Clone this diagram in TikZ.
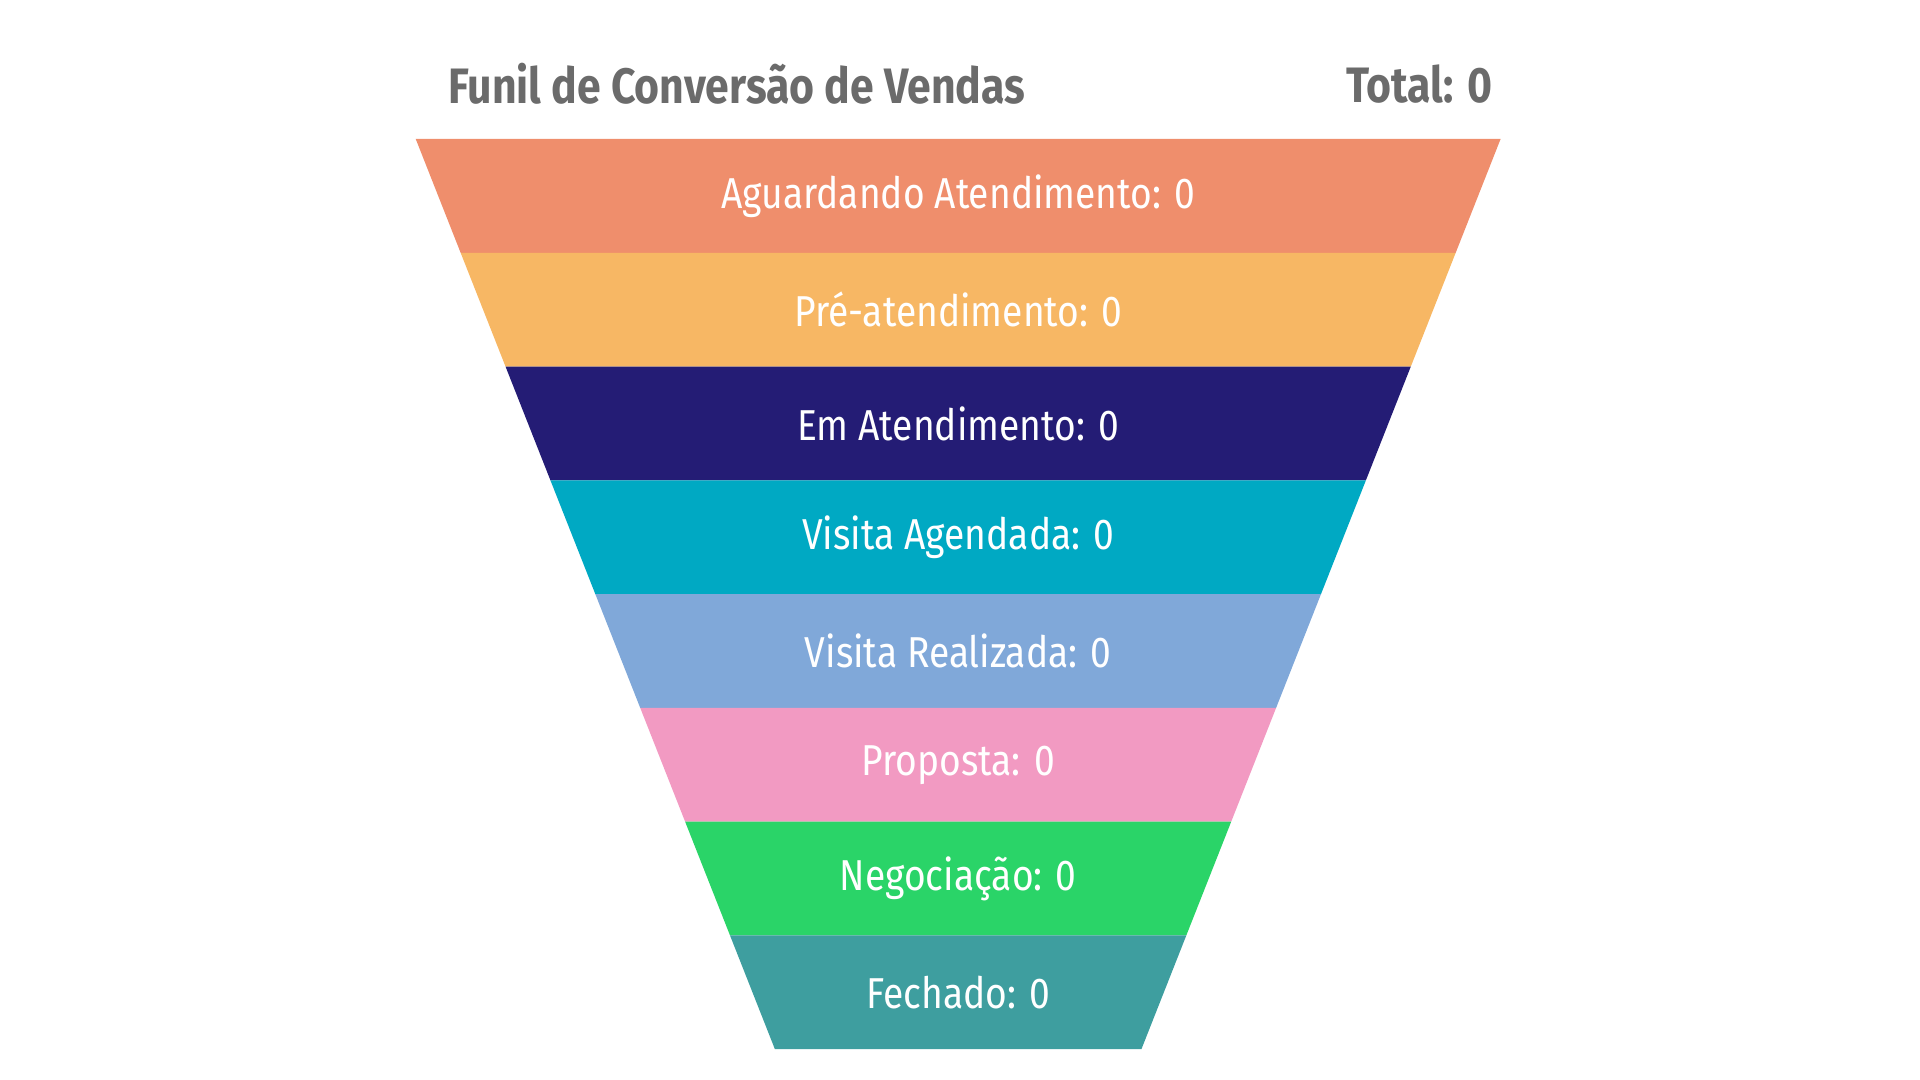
\documentclass[tikz,border=0pt]{standalone}
\usepackage{fontspec}
\setmainfont[FakeStretch=0.86]{Fira Sans}
\usetikzlibrary{calc}
\definecolor{cAgu}{HTML}{EF8E6C}
\definecolor{cPre}{HTML}{F7B764}
\definecolor{cEm}{HTML}{241C75}
\definecolor{cVag}{HTML}{00A9C3}
\definecolor{cVre}{HTML}{80A8D9}
\definecolor{cPro}{HTML}{F29AC2}
\definecolor{cNeg}{HTML}{2AD468}
\definecolor{cFec}{HTML}{3E9E9F}
\definecolor{cTxt}{HTML}{6B6B6B}
\tikzset{
  band/.style={inner sep=0pt},
  lbl/.style={text=white, font=\fontsize{10}{12}\selectfont},
  hdr/.style={text=cTxt, font=\fontsize{11.5}{14}\selectfont\bfseries}
}
\begin{document}
\begin{tikzpicture}[x=0.01cm,y=-0.01cm]
		\useasboundingbox (0,0) rectangle (1561,878);
		\node[hdr, anchor=west] (title) at (352,68) {Funil de Conversão de Vendas};
		\node[hdr, anchor=east] (total) at (1226,68) {Total: 0};
		%
		\foreach \i/\c/\t in {0/cAgu/Aguardando Atendimento: 0, 1/cPre/Pré-atendimento: 0,
		  2/cEm/Em Atendimento: 0, 3/cVag/Visita Agendada: 0, 4/cVre/Visita Realizada: 0,
		  5/cPro/Proposta: 0, 6/cNeg/Negociação: 0, 7/cFec/Fechado: 0}
		{
			\pgfmathsetmacro{\ya}{113+92.5*\i}
			\pgfmathsetmacro{\yb}{113+92.5*(\i+1)}
			\pgfmathsetmacro{\xa}{338+0.3946*92.5*\i}
			\pgfmathsetmacro{\xb}{338+0.3946*92.5*(\i+1)}
			\fill[\c] (\xa,\ya) -- (1558-\xa,\ya) -- (1558-\xb,\yb) -- (\xb,\yb) -- cycle;
			\node[lbl] (stage\i) at (779,{(\ya+\yb)/2}) {\t};
		}
	\end{tikzpicture}
\end{document}
